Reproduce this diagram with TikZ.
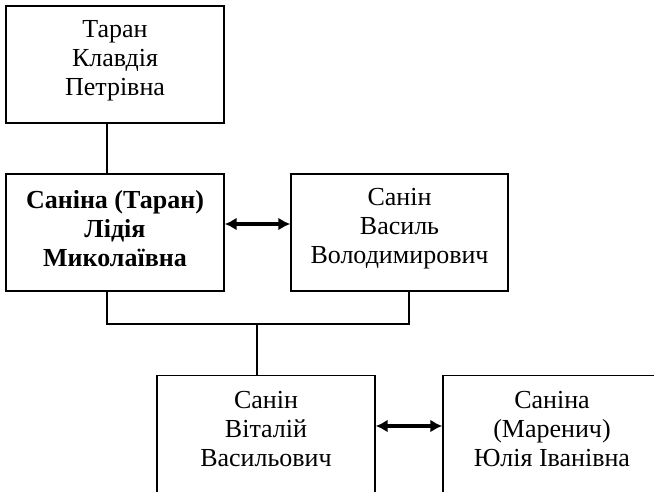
\documentclass[tikz,border=0pt]{standalone}
\usepackage{fontspec}
\setmainfont{Liberation Serif}
\usetikzlibrary{arrows.meta}
\newcommand\boxfont{\fontsize{26pt}{29pt}\selectfont}
\begin{document}
\begin{tikzpicture}[x=1pt,y=-1pt,
  box/.style={draw=black, line width=1.4pt, minimum width=218pt, minimum height=117pt, inner sep=0pt, fill=white},
  txt/.style={align=center, font=\boxfont, inner sep=0pt},
  link/.style={draw=black, line width=1.4pt},
  marriage/.style={draw=black, line width=3.2pt, {Latex[length=12pt,width=13pt]}-{Latex[length=12pt,width=13pt]}}]
\useasboundingbox (0,0) rectangle (654,491);
\clip (0,0) rectangle (654,491);
\fill[white] (0,0) rectangle (654,491);
% top box
\node[box] (klav) at (115,64.5) {};
\node[txt] (klavt) at (115,61) {Таран\\Клавдія\\Петрівна};
% middle row
\node[box] (lid) at (115,232.5) {};
\node[txt] (lidt) at (115,229) {\bfseries Саніна (Таран)\\\bfseries Лідія\\\bfseries Миколаївна};
\node[box, minimum width=217pt] (vas) at (399.5,232.5) {};
\node[txt] (vast) at (399.5,229) {Санін\\Василь\\Володимирович};
% bottom row (cut off)
\node[box, minimum height=140pt, anchor=north] (vit) at (266,375) {};
\node[txt] (vitt) at (266,429) {Санін\\Віталій\\Васильович};
\node[box, minimum height=140pt, anchor=north] (yul) at (552,375) {};
\node[txt] (yult) at (552,429) {Саніна\\(Маренич)\\Юлія Іванівна};
% connectors
\coordinate (jl) at (107,324);
\coordinate (jr) at (409,324);
\coordinate (jm) at (257,324);
\draw[link] (klav.south -| jl) -- (lid.north -| jl);
\draw[link] (lid.south -| jl) -- (jl) -- (jr) -- (vas.south -| jr);
\draw[link] (jm) -- (vit.north -| jm);
\draw[marriage] ([yshift=8.5pt]lid.east) -- ([yshift=8.5pt]vas.west);
\draw[marriage] ([yshift=3pt]vit.east |- vitt.center) -- ([yshift=3pt]yul.west |- yult.center);
\end{tikzpicture}
\end{document}
